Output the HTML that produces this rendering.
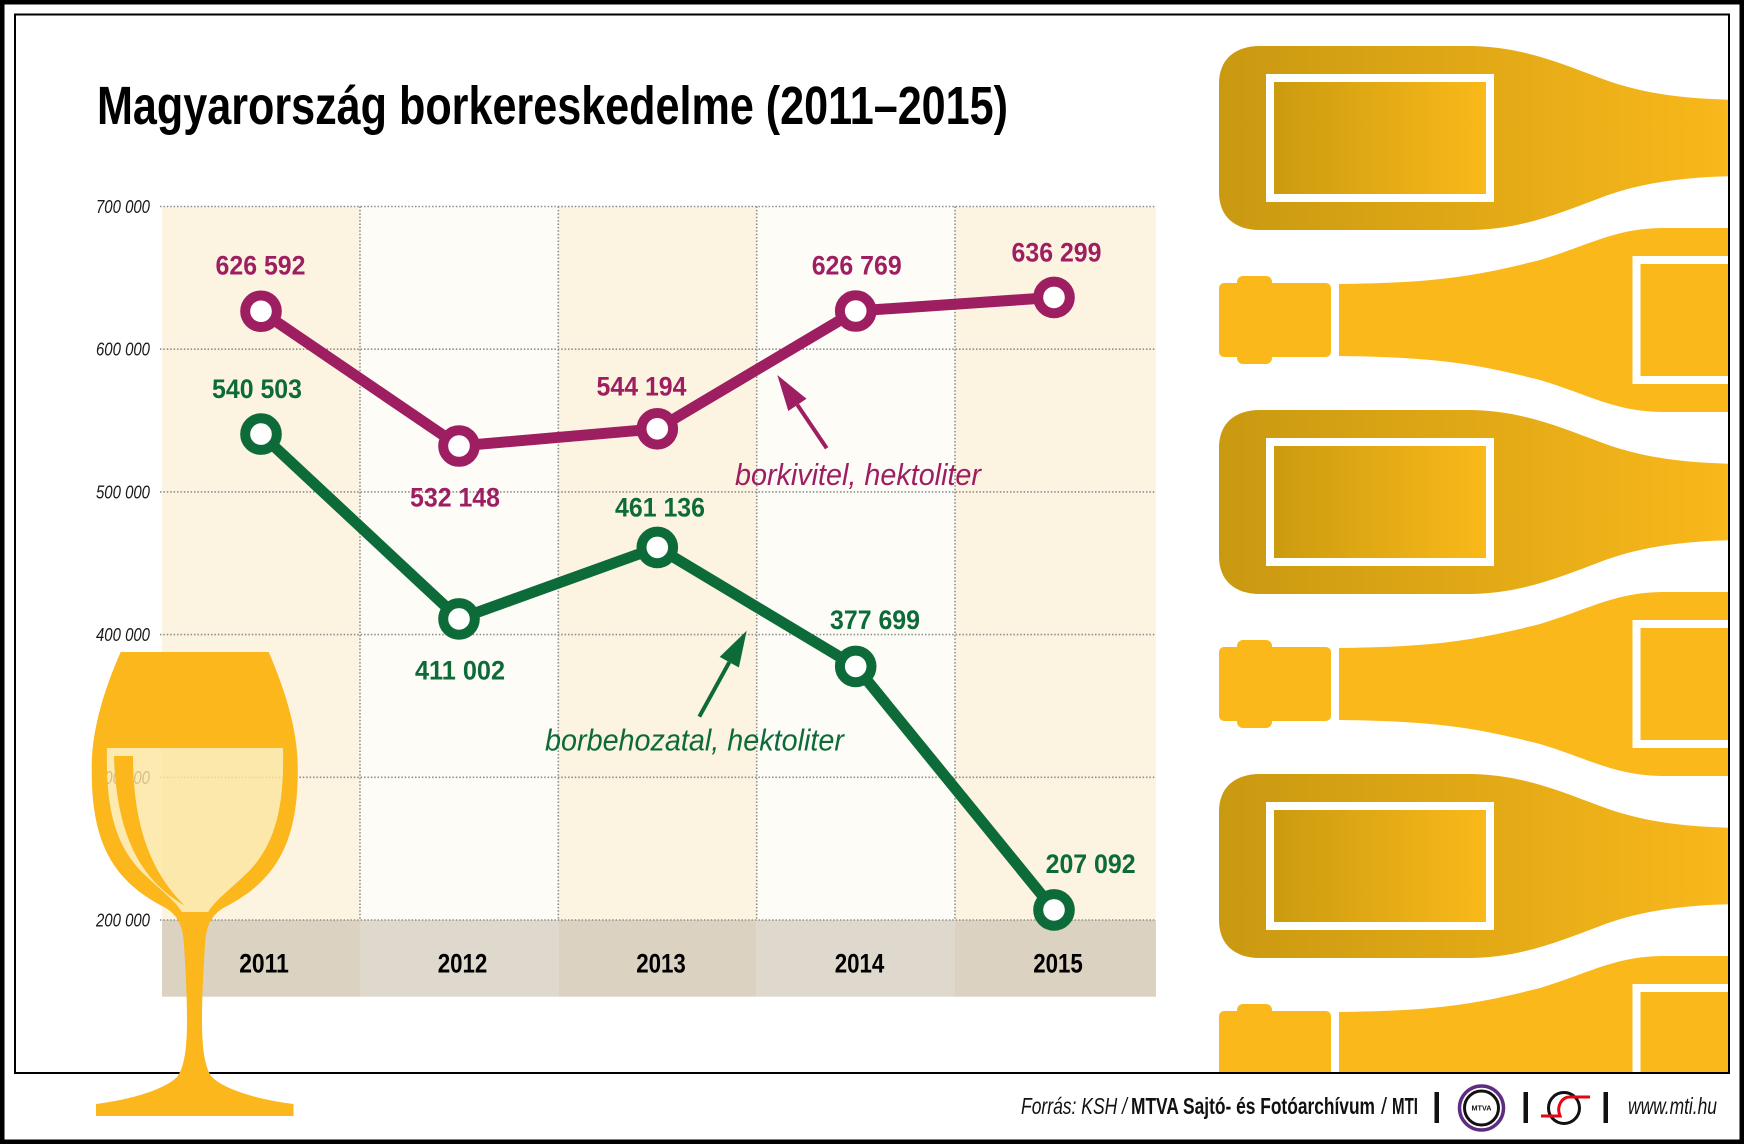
<!DOCTYPE html>
<html>
<head>
<meta charset="utf-8">
<style>
html,body{margin:0;padding:0;background:#fff;}
svg{display:block;}
.cb{font-family:"Liberation Sans Narrow","Liberation Sans",sans-serif;font-weight:bold;}
.ci{font-family:"Liberation Sans Narrow","Liberation Sans",sans-serif;font-style:italic;}
.cr{font-family:"Liberation Sans Narrow","Liberation Sans",sans-serif;}
</style>
</head>
<body>
<svg width="1744" height="1144" viewBox="0 0 1744 1144" xmlns="http://www.w3.org/2000/svg">
<defs>
  <linearGradient id="gA" gradientUnits="userSpaceOnUse" x1="1219" y1="0" x2="1728" y2="0">
    <stop offset="0" stop-color="#C99911"/>
    <stop offset="1" stop-color="#F9B81B"/>
  </linearGradient>
  <linearGradient id="gL" gradientUnits="userSpaceOnUse" x1="1274" y1="0" x2="1486" y2="0">
    <stop offset="0" stop-color="#CB9B10"/>
    <stop offset="1" stop-color="#FAB91A"/>
  </linearGradient>
  <clipPath id="frameClip"><rect x="16" y="16" width="1712" height="1056"/></clipPath>
  <g id="bottleA">
    <path d="M1219,-54 C1219,-78 1234,-92 1260,-92 L1468,-92 C1520,-92 1560,-75 1600,-60 C1640,-45 1680,-39 1740,-38 L1740,38 C1680,39 1640,45 1600,60 C1560,75 1520,92 1468,92 L1260,92 C1234,92 1219,78 1219,54 Z" fill="url(#gA)"/>
    <rect x="1266" y="-64" width="228" height="128" fill="#fff"/>
    <rect x="1274" y="-56" width="212" height="112" fill="url(#gL)"/>
  </g>
  <g id="bottleB">
    <rect x="1219" y="-37" width="112" height="74" rx="5" fill="#FBB81B"/>
    <rect x="1237" y="-44" width="35" height="88" rx="6" fill="#FBB81B"/>
    <path d="M1339,-36 C1440,-37 1480,-45 1540,-60 C1590,-75 1615,-92 1665,-92 L1740,-92 L1740,92 L1665,92 C1615,92 1590,75 1540,60 C1480,45 1440,37 1339,36 Z" fill="#FBB81B"/>
    <rect x="1632.5" y="-64" width="120" height="128" fill="#fff"/>
    <rect x="1640.5" y="-56" width="120" height="112" fill="#FBB81B"/>
  </g>
</defs>

<!-- background -->
<rect x="0" y="0" width="1744" height="1144" fill="#fff"/>

<!-- bottles -->
<g clip-path="url(#frameClip)">
  <use href="#bottleA" transform="translate(0,138)"/>
  <use href="#bottleB" transform="translate(0,320)"/>
  <use href="#bottleA" transform="translate(0,502)"/>
  <use href="#bottleB" transform="translate(0,684)"/>
  <use href="#bottleA" transform="translate(0,866)"/>
  <use href="#bottleB" transform="translate(0,1048)"/>
</g>

<!-- frames -->
<rect x="2" y="2" width="1740" height="1140" fill="none" stroke="#000" stroke-width="5"/>
<rect x="15" y="14.5" width="1714" height="1058.5" fill="none" stroke="#000" stroke-width="2"/>

<!-- title -->
<text class="cb" x="97" y="124" font-size="54" fill="#000" textLength="911" lengthAdjust="spacingAndGlyphs">Magyarország borkereskedelme (2011–2015)</text>

<!-- chart column backgrounds -->
<rect x="162" y="206.5" width="198" height="713.5" fill="#FCF3E1"/>
<rect x="360" y="206.5" width="198.3" height="713.5" fill="#FEFCF6"/>
<rect x="558.3" y="206.5" width="198.4" height="713.5" fill="#FCF3E1"/>
<rect x="756.7" y="206.5" width="198.3" height="713.5" fill="#FEFCF6"/>
<rect x="955" y="206.5" width="201" height="713.5" fill="#FCF3E1"/>

<!-- year band -->
<rect x="162" y="920" width="198" height="76.7" fill="#DBD2C1"/>
<rect x="360" y="920" width="198.3" height="76.7" fill="#DFD8CC"/>
<rect x="558.3" y="920" width="198.4" height="76.7" fill="#DBD2C1"/>
<rect x="756.7" y="920" width="198.3" height="76.7" fill="#DFD8CC"/>
<rect x="955" y="920" width="201" height="76.7" fill="#DBD2C1"/>

<!-- gridlines -->
<g stroke="#8E8E8E" stroke-width="1.6" stroke-dasharray="1.5 1.9" fill="none">
  <line x1="160" y1="206.5" x2="1156" y2="206.5"/>
  <line x1="160" y1="349.2" x2="1156" y2="349.2"/>
  <line x1="160" y1="491.9" x2="1156" y2="491.9"/>
  <line x1="160" y1="634.6" x2="1156" y2="634.6"/>
  <line x1="160" y1="777.3" x2="1156" y2="777.3"/>
  <line x1="160" y1="920" x2="1156" y2="920"/>
  <line x1="360" y1="206.5" x2="360" y2="920"/>
  <line x1="558.3" y1="206.5" x2="558.3" y2="920"/>
  <line x1="756.7" y1="206.5" x2="756.7" y2="920"/>
  <line x1="955" y1="206.5" x2="955" y2="920"/>
</g>

<!-- y labels -->
<g class="ci" font-size="18" fill="#1a1a1a">
  <text x="96" y="213" textLength="54" lengthAdjust="spacingAndGlyphs">700 000</text>
  <text x="96" y="355.7" textLength="54" lengthAdjust="spacingAndGlyphs">600 000</text>
  <text x="96" y="498.4" textLength="54" lengthAdjust="spacingAndGlyphs">500 000</text>
  <text x="96" y="641.1" textLength="54" lengthAdjust="spacingAndGlyphs">400 000</text>
  <text x="96" y="783.8" textLength="54" lengthAdjust="spacingAndGlyphs">300 000</text>
  <text x="96" y="926.5" textLength="54" lengthAdjust="spacingAndGlyphs">200 000</text>
</g>

<!-- year labels -->
<g class="cb" font-size="27" fill="#000">
  <text x="239.2" y="972.7" textLength="49.6" lengthAdjust="spacingAndGlyphs">2011</text>
  <text x="437.7" y="972.7" textLength="49.6" lengthAdjust="spacingAndGlyphs">2012</text>
  <text x="636.2" y="972.7" textLength="49.6" lengthAdjust="spacingAndGlyphs">2013</text>
  <text x="834.7" y="972.7" textLength="49.6" lengthAdjust="spacingAndGlyphs">2014</text>
  <text x="1033.2" y="972.7" textLength="49.6" lengthAdjust="spacingAndGlyphs">2015</text>
</g>

<!-- series lines -->
<polyline points="261,311.25 459,446 657.3,428.8 855.7,311 1054,297.4" fill="none" stroke="#9E1E62" stroke-width="11" stroke-linejoin="round"/>
<polyline points="261,434.1 459,618.9 657.3,547.4 855.7,666.4 1054,909.9" fill="none" stroke="#0C6B39" stroke-width="11" stroke-linejoin="round"/>

<!-- markers -->
<g fill="#fff" stroke="#9E1E62" stroke-width="10">
  <circle cx="261" cy="311.25" r="15.8"/>
  <circle cx="459" cy="446" r="15.8"/>
  <circle cx="657.3" cy="428.8" r="15.8"/>
  <circle cx="855.7" cy="311" r="15.8"/>
  <circle cx="1054" cy="297.4" r="15.8"/>
</g>
<g fill="#fff" stroke="#0C6B39" stroke-width="10">
  <circle cx="261" cy="434.1" r="15.8"/>
  <circle cx="459" cy="618.9" r="15.8"/>
  <circle cx="657.3" cy="547.4" r="15.8"/>
  <circle cx="855.7" cy="666.4" r="15.8"/>
  <circle cx="1054" cy="909.9" r="15.8"/>
</g>

<!-- value labels -->
<g class="cb" font-size="27" fill="#9E1E62">
  <text x="215.5" y="274.5" textLength="90" lengthAdjust="spacingAndGlyphs">626 592</text>
  <text x="410" y="506.5" textLength="90" lengthAdjust="spacingAndGlyphs">532 148</text>
  <text x="596.5" y="395.5" textLength="90" lengthAdjust="spacingAndGlyphs">544 194</text>
  <text x="811.7" y="274.3" textLength="90" lengthAdjust="spacingAndGlyphs">626 769</text>
  <text x="1011.5" y="261.5" textLength="90" lengthAdjust="spacingAndGlyphs">636 299</text>
</g>
<g class="cb" font-size="27" fill="#0C6B39">
  <text x="212" y="398" textLength="90" lengthAdjust="spacingAndGlyphs">540 503</text>
  <text x="415" y="679.5" textLength="90" lengthAdjust="spacingAndGlyphs">411 002</text>
  <text x="615" y="516.5" textLength="90" lengthAdjust="spacingAndGlyphs">461 136</text>
  <text x="830" y="629" textLength="90" lengthAdjust="spacingAndGlyphs">377 699</text>
  <text x="1045.6" y="873" textLength="90" lengthAdjust="spacingAndGlyphs">207 092</text>
</g>

<!-- arrows -->
<line x1="826.7" y1="448.3" x2="797.4" y2="404.9" stroke="#9E1E62" stroke-width="4"/>
<polygon points="777.3,375 806.5,398.8 788.3,411" fill="#9E1E62"/>
<line x1="699.3" y1="716.7" x2="729.3" y2="662.2" stroke="#0C6B39" stroke-width="4"/>
<polygon points="746.7,630.7 738.9,667.5 719.7,656.9" fill="#0C6B39"/>

<!-- series names -->
<text class="ci" x="735" y="485" font-size="31" fill="#9E1E62" textLength="246" lengthAdjust="spacingAndGlyphs">borkivitel, hektoliter</text>
<text class="ci" x="545" y="750.7" font-size="31" fill="#0C6B39" textLength="299" lengthAdjust="spacingAndGlyphs">borbehozatal, hektoliter</text>

<!-- wine glass -->
<path fill-rule="evenodd" fill="#FBB71B" d="
M120.7,652 L268.7,652
C285,690 297.7,730 297.7,767
C298.5,840 278,880 225,907
C212,914 206,925 205,945
C203,975 202,1000 202,1020
C202,1050 205,1068 212,1077
C225,1090 260,1100 293.5,1104
L293.5,1116 L96,1116 L96,1104
C129,1100 164,1090 177,1077
C184,1068 187,1050 187,1020
C187,1000 186,975 184,945
C183,925 177,914 164,907
C111,880 90.9,840 91.7,767
C91.7,730 104,690 120.7,652 Z
M107,748 L283,748 C284,800 278,840 250,870 C232,888 215,900 208,912 L182,912 C175,900 158,888 140,870 C112,840 106,800 107,748 Z"/>
<path fill="#FDE59F" fill-opacity="0.82" d="M107,748 L283,748 C284,800 278,840 250,870 C232,888 215,900 208,912 L182,912 C175,900 158,888 140,870 C112,840 106,800 107,748 Z"/>
<path fill="#FBB71B" d="M114,756 L133,756 C133,820 148,870 185,906 C150,885 117,850 114,756 Z"/>

<!-- footer -->
<text class="ci" x="1021" y="1114" font-size="23" fill="#111" textLength="106" lengthAdjust="spacingAndGlyphs">Forrás: KSH /</text>
<text class="cb" x="1131" y="1114" font-size="23" fill="#111" textLength="244" lengthAdjust="spacingAndGlyphs">MTVA Sajtó- és Fotóarchívum</text>
<text class="cr" x="1381" y="1114" font-size="23" fill="#111" textLength="6" lengthAdjust="spacingAndGlyphs">/</text>
<text class="cb" x="1392" y="1114" font-size="23" fill="#111" textLength="26" lengthAdjust="spacingAndGlyphs">MTI</text>
<rect x="1434.5" y="1092" width="4.5" height="31" fill="#111"/>
<circle cx="1481.5" cy="1108" r="22" fill="none" stroke="#5E2D83" stroke-width="3.5"/>
<circle cx="1481.5" cy="1108" r="17" fill="none" stroke="#111" stroke-width="3"/>
<text class="cb" x="1471.5" y="1110.5" font-size="7" fill="#111" textLength="20" lengthAdjust="spacingAndGlyphs">MTVA</text>
<rect x="1523.5" y="1092" width="4.5" height="31" fill="#111"/>
<circle cx="1564" cy="1108" r="15.5" fill="none" stroke="#111" stroke-width="3"/>
<path d="M1541,1116 L1560,1116 C1556,1106 1562,1097 1570,1097 L1590,1097" fill="none" stroke="#E30613" stroke-width="3"/>
<rect x="1603.5" y="1092" width="4.5" height="31" fill="#111"/>
<text class="ci" x="1628" y="1114" font-size="23" fill="#111" textLength="89" lengthAdjust="spacingAndGlyphs">www.mti.hu</text>
</svg>
</body>
</html>
